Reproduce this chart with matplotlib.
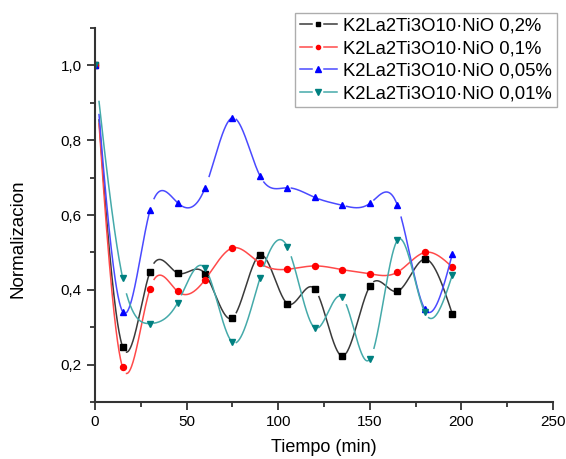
import numpy as np
import matplotlib
matplotlib.use("Agg")
import matplotlib.pyplot as plt
from matplotlib.ticker import MultipleLocator, FuncFormatter
from matplotlib.lines import Line2D
from matplotlib.legend_handler import HandlerBase

plt.rcParams['font.family'] = ['Liberation Sans', 'DejaVu Sans']

# datos
tiempo = [0, 15, 30, 45, 60, 75, 90, 105, 120, 135, 150, 165, 180, 195]
nio_02 = [1.0, 0.248, 0.449, 0.445, 0.443, 0.325, 0.493, 0.363, 0.402, 0.223, 0.410, 0.396, 0.482, 0.336]
nio_01 = [1.0, 0.193, 0.403, 0.396, 0.427, 0.512, 0.471, 0.455, 0.464, 0.454, 0.443, 0.447, 0.500, 0.461]
nio_005 = [1.0, 0.342, 0.613, 0.633, 0.672, 0.860, 0.705, 0.673, 0.647, 0.626, 0.631, 0.627, 0.349, 0.495]
nio_001 = [1.0, 0.433, 0.310, 0.365, 0.458, 0.260, 0.431, 0.515, 0.298, 0.380, 0.215, 0.532, 0.340, 0.439]
etiquetas = ["K2La2Ti3O10·NiO 0,2%", "K2La2Ti3O10·NiO 0,1%",
             "K2La2Ti3O10·NiO 0,05%", "K2La2Ti3O10·NiO 0,01%"]

series = [nio_02, nio_01, nio_005, nio_001]
colores_linea = ["#3a3a3a", "#ff4a4a", "#4a4aff", "#45aaaa"]
colores_marca = ["#000000", "#ff0000", "#0000ff", "#008080"]
marcas = ["s", "o", "^", "v"]
tamanos = [3.8, 4.3, 5.0, 5.0]


def spline_natural(x, y, n=1000):
    # spline cubico natural
    x = np.asarray(x, float)
    y = np.asarray(y, float)
    k = len(x)
    h = np.diff(x)
    A = np.zeros((k, k))
    b = np.zeros(k)
    A[0, 0] = 1
    A[-1, -1] = 1
    for i in range(1, k - 1):
        A[i, i - 1] = h[i - 1]
        A[i, i] = 2 * (h[i - 1] + h[i])
        A[i, i + 1] = h[i]
        b[i] = 6 * ((y[i + 1] - y[i]) / h[i] - (y[i] - y[i - 1]) / h[i - 1])
    M = np.linalg.solve(A, b)
    xs = np.linspace(x[0], x[-1], n)
    idx = np.clip(np.searchsorted(x, xs) - 1, 0, k - 2)
    x0, x1 = x[idx], x[idx + 1]
    hh = x1 - x0
    t0 = x1 - xs
    t1 = xs - x0
    ys = (M[idx] * t0**3 + M[idx + 1] * t1**3) / (6 * hh) \
        + (y[idx] / hh - M[idx] * hh / 6) * t0 \
        + (y[idx + 1] / hh - M[idx + 1] * hh / 6) * t1
    return xs, ys


class HandlerGap(HandlerBase):
    # linea - marca - linea con huecos, como en Origin
    def create_artists(self, legend, orig, xd, yd, w, h, fs, trans):
        y0 = (h - yd) / 2
        x0 = -xd
        x1 = x0 + w
        xm = (x0 + x1) / 2
        g = 0.16 * w
        a = Line2D([x0, xm - g], [y0, y0], color=orig.get_color(), lw=orig.get_linewidth())
        b = Line2D([xm + g, x1], [y0, y0], color=orig.get_color(), lw=orig.get_linewidth())
        c = Line2D([xm], [y0], ls="none", marker=orig.get_marker(), ms=orig.get_markersize(),
                   mfc=orig.get_markerfacecolor(), mec=orig.get_markeredgecolor())
        for art in (a, b, c):
            art.set_transform(trans)
        return [a, b, c]


fig = plt.figure(figsize=(5.66, 4.59), dpi=100)
ax = fig.add_axes([0.168, 0.124, 0.809, 0.815])
ax.set_xlim(0, 250)
ax.set_ylim(0.1, 1.1)

# hueco despues de cada punto (px en x)
for y, cl, cm, m, s in zip(series, colores_linea, colores_marca, marcas, tamanos):
    xs, ys = spline_natural(tiempo, y)
    px = ax.transData.transform(np.column_stack([xs, ys]))[:, 0]
    pd_ = ax.transData.transform(np.column_stack([tiempo, y]))[:, 0]
    dx = px[:, None] - pd_[None, :]
    cerca = np.any((dx > -0.5) & (dx < 3.8), axis=1)
    ys_m = np.where(cerca, np.nan, ys)
    ax.plot(xs, ys_m, color=cl, lw=1.1)
    ax.plot(tiempo, y, ls="none", marker=m, ms=s, color=cm)

handles = [Line2D([], [], color=cl, lw=1.1, marker=m, ms=s - 1.3, mfc=cm, mec=cm)
           for cl, cm, m, s in zip(colores_linea, colores_marca, marcas, tamanos)]
leg = ax.legend(handles, etiquetas, loc="upper right",
                bbox_to_anchor=(556.5 / 566, 1 - 13 / 459), bbox_transform=fig.transFigure,
                fontsize=13.3, frameon=True, fancybox=False,
                handlelength=2.0, handletextpad=0.35, borderpad=0.25, labelspacing=0.3,
                borderaxespad=0, handler_map={Line2D: HandlerGap()})
leg.get_frame().set_edgecolor("#999999")
leg.get_frame().set_linewidth(1.0)

for lado in ["top", "right"]:
    ax.spines[lado].set_visible(False)
for lado in ["left", "bottom"]:
    ax.spines[lado].set_linewidth(1.5)
    ax.spines[lado].set_color("#333333")

ax.xaxis.set_major_locator(MultipleLocator(50))
ax.xaxis.set_minor_locator(MultipleLocator(25))
ax.yaxis.set_major_locator(MultipleLocator(0.2))
ax.yaxis.set_minor_locator(MultipleLocator(0.1))
ax.yaxis.set_major_formatter(FuncFormatter(lambda v, p: f"{v:.1f}".replace(".", ",")))
ax.tick_params(which="major", direction="out", length=6, width=1.3, color="#333333", labelsize=11)
ax.tick_params(which="minor", direction="out", length=3.6, width=1.3, color="#333333")

ax.set_xlabel("Tiempo (min)", fontsize=13)
ax.set_ylabel("Normalizacion", fontsize=13.5)
ax.xaxis.set_label_coords(0.499, -0.1)
ax.yaxis.set_label_coords(-0.15, 0.436)

fig.savefig("out.png", dpi=100)
